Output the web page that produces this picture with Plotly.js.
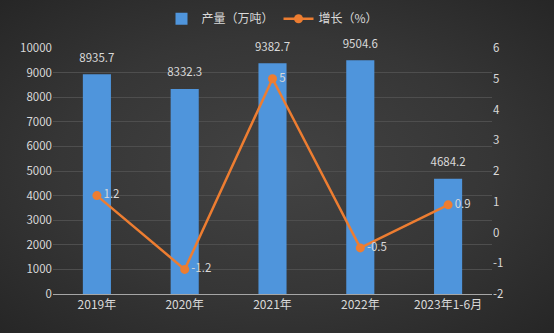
<!DOCTYPE html>
<html><head><meta charset="utf-8">
<script src="https://cdn.plot.ly/plotly-3.0.1.min.js"></script>
<style>
html,body{margin:0;padding:0;}
#chart{width:554px;height:333px;background:radial-gradient(ellipse at center,#434343 0%,#363636 55%,#262626 100%);}
</style>
</head><body>
<div id="chart"></div>
<script>
const categories = ["2019年","2020年","2021年","2022年","2023年1-6月"];
const production = [8935.7, 8332.3, 9382.7, 9504.6, 4684.2];
const growth = [1.2, -1.2, 5, -0.5, 0.9];
const productionLabels = ["8935.7","8332.3","9382.7","9504.6","4684.2"];
const growthLabels = ["1.2","-1.2","5","-0.5","0.9"];
const rightTickVals = [-2,-1,0,1,2,3,4,5,6];
const rightTickText = ["-2","-1","0","1","2","3","4","5","6"];

const font = {family:'"Noto Sans CJK SC", "Noto Sans", sans-serif', size:11, color:'#d9d9d9'};

const traces = [
  {type:'bar', name:'产量（万吨）', x:categories, y:production,
   marker:{color:'#4f95dc'}, hoverinfo:'none'},
  {type:'scatter', mode:'markers+text', showlegend:false, x:categories, y:production,
   marker:{size:14, opacity:0}, text:productionLabels, textposition:'top center',
   textfont:{color:'#d9d9d9', size:11.5}, cliponaxis:false, hoverinfo:'none'},
  {type:'scatter', mode:'lines+markers+text', name:'增长（%）', x:categories, y:growth, yaxis:'y2',
   line:{color:'#ed7d31', width:2.5}, marker:{color:'#ed7d31', size:9},
   text:growthLabels, textposition:'middle right', textfont:{color:'#d9d9d9', size:11.5},
   cliponaxis:false, hoverinfo:'none'}
];

const layout = {
  width:554, height:333,
  margin:{l:53, r:62, t:48, b:39},
  paper_bgcolor:'rgba(0,0,0,0)', plot_bgcolor:'rgba(0,0,0,0)',
  font:font,
  showlegend:true,
  legend:{orientation:'h', x:0.5, xanchor:'center', y:0.9, yanchor:'bottom', yref:'container',
          font:{size:12, color:'#d9d9d9'}, bgcolor:'rgba(0,0,0,0)', traceorder:'normal'},
  bargap:0.68,
  xaxis:{type:'category', showgrid:false, showline:true, linecolor:'#a6a6a6', linewidth:1,
         ticks:'', tickfont:{size:12, color:'#d9d9d9'}, zeroline:false},
  yaxis:{range:[0,10000], dtick:1000, tickformat:'d', showgrid:true, gridcolor:'#4e4e4e', gridwidth:1,
         zeroline:false, showline:false, ticks:'', tickfont:{size:11.5, color:'#d9d9d9'}},
  yaxis2:{range:[-2,6], tickmode:'array', tickvals:rightTickVals, ticktext:rightTickText,
          overlaying:'y', side:'right', showgrid:false, zeroline:false,
          showline:false, ticks:'', tickfont:{size:11.5, color:'#d9d9d9'}}
};
Plotly.newPlot('chart', traces, layout, {staticPlot:true, displayModeBar:false});
</script>
</body></html>
